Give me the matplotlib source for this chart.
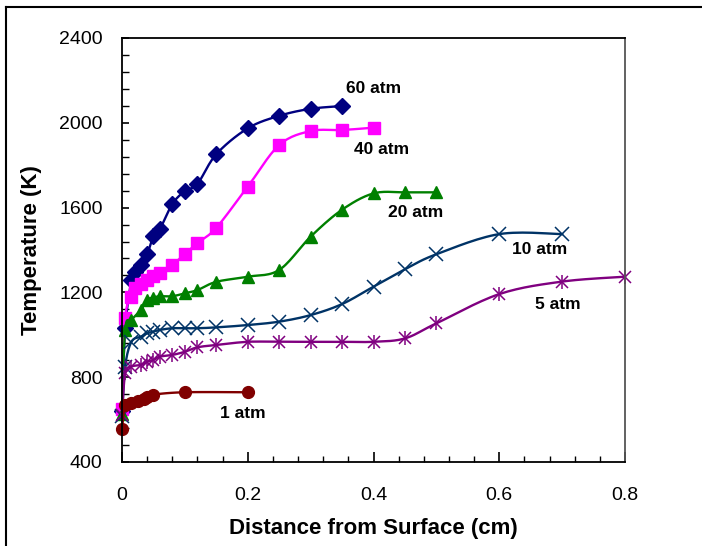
import numpy as np
import matplotlib
matplotlib.use("Agg")
import matplotlib.pyplot as plt
from matplotlib.lines import Line2D

plt.rcParams['font.family'] = ['Liberation Sans', 'DejaVu Sans']

# Temperature profiles vs distance from surface
x_60 = [0, 0.005, 0.015, 0.02, 0.03, 0.04, 0.05, 0.06, 0.08, 0.1, 0.12, 0.15, 0.2, 0.25, 0.3, 0.35]
t_60 = [640, 1030, 1258, 1298, 1329, 1379, 1466, 1497, 1617, 1678, 1712, 1852, 1974, 2033, 2066, 2079]

x_40 = [0, 0.005, 0.015, 0.02, 0.03, 0.04, 0.05, 0.06, 0.08, 0.1, 0.12, 0.15, 0.2, 0.25, 0.3, 0.35, 0.4]
t_40 = [650, 1078, 1180, 1219, 1240, 1260, 1275, 1292, 1329, 1382, 1432, 1505, 1699, 1895, 1961, 1966, 1977]

x_20 = [0, 0.005, 0.015, 0.03, 0.04, 0.05, 0.06, 0.08, 0.1, 0.12, 0.15, 0.2, 0.25, 0.3, 0.35, 0.4, 0.45, 0.5]
t_20 = [625, 1025, 1070, 1117, 1165, 1175, 1182, 1182, 1196, 1211, 1250, 1274, 1306, 1463, 1590, 1667, 1672, 1672]

x_10 = [0, 0.005, 0.015, 0.03, 0.04, 0.05, 0.06, 0.08, 0.1, 0.12, 0.15, 0.2, 0.25, 0.3, 0.35, 0.4, 0.45, 0.5, 0.6, 0.7]
t_10 = [615, 850, 967, 991, 1007, 1015, 1023, 1031, 1031, 1031, 1035, 1046, 1062, 1093, 1145, 1227, 1309, 1380, 1475, 1475]

x_5 = [0, 0.005, 0.015, 0.03, 0.04, 0.05, 0.06, 0.08, 0.1, 0.12, 0.15, 0.2, 0.25, 0.3, 0.35, 0.4, 0.45, 0.5, 0.6, 0.7, 0.8]
t_5 = [620, 818, 850, 858, 873, 881, 897, 905, 920, 941, 952, 967, 967, 967, 967, 967, 983, 1054, 1192, 1251, 1274]

x_1 = [0, 0.005, 0.015, 0.025, 0.035, 0.04, 0.05, 0.1, 0.2]
t_1 = [556, 670, 680, 688, 698, 708, 718, 729, 729]

labels = ['60 atm', '40 atm', '20 atm', '10 atm', '5 atm', '1 atm']
label_x = [0.40, 0.413, 0.467, 0.665, 0.693, 0.192]
label_y = [2164, 1872, 1575, 1400, 1145, 631]


def smooth(xs, ys, n=16):
    # Excel-like smoothed line (Catmull-Rom / Bezier), done in screen-ish units
    sx, sy = 503 / 0.8, 424 / 2000.0
    p = np.column_stack([np.asarray(xs) * sx, np.asarray(ys) * sy])
    out = [p[0]]
    for i in range(len(p) - 1):
        p0 = p[i - 1] if i > 0 else p[i]
        p1, p2 = p[i], p[i + 1]
        p3 = p[i + 2] if i + 2 < len(p) else p[i + 1]
        c1 = p1 + (p2 - p0) / 6
        c2 = p2 - (p3 - p1) / 6
        t = np.linspace(0, 1, n)[1:, None]
        seg = (1 - t) ** 3 * p1 + 3 * (1 - t) ** 2 * t * c1 + 3 * (1 - t) * t ** 2 * c2 + t ** 3 * p2
        out.extend(seg)
    out = np.array(out)
    return out[:, 0] / sx, out[:, 1] / sy


fig = plt.figure(figsize=(7.02, 5.46), dpi=100)
ax = fig.add_axes([122 / 702, 1 - 462 / 546, 503 / 702, 424 / 546])

series = [
    (x_60, t_60, '#000080', 'D', 8),
    (x_40, t_40, '#FF00FF', 's', 8.5),
    (x_20, t_20, '#008000', '^', 9),
    (x_10, t_10, '#003366', 'x', 10),
    (x_5, t_5, '#800080', 'x', 9),
    (x_1, t_1, '#800000', 'o', 8.5),
]

for xs, ys, c, m, ms in series:
    lx, ly = smooth(xs, ys)
    ax.plot(lx, ly, color=c, lw=1.7, clip_on=False)
    if m == 'x':
        ax.plot(xs, ys, ls='none', marker='x', ms=ms, mew=1.1, color=c, clip_on=False)
    else:
        ax.plot(xs, ys, ls='none', marker=m, ms=ms, color=c, mec=c, clip_on=False)

# 5 atm uses an asterisk marker: add the vertical stroke
ax.plot(x_5, t_5, ls='none', marker='|', ms=10, mew=1.1, color='#800080', clip_on=False)

for s, lx, ly in zip(labels, label_x, label_y):
    ax.text(lx, ly, s, fontsize=12.5, fontweight='bold', ha='center', va='center')

ax.set_xlim(0, 0.8)
ax.set_ylim(400, 2400)
ax.set_xticks([0, 0.2, 0.4, 0.6, 0.8])
ax.set_xticklabels(['0', '0.2', '0.4', '0.6', '0.8'])
ax.set_xticks(np.arange(0, 0.81, 0.04), minor=True)
ax.set_yticks(np.arange(400, 2401, 400))
ax.set_yticks(np.arange(400, 2401, 80), minor=True)
ax.tick_params(which='both', direction='in', labelsize=14, top=False, right=False)
ax.tick_params(axis='x', which='major', length=7, width=1.2, pad=18)
ax.tick_params(axis='x', which='minor', length=4.5, width=1.0)
ax.tick_params(axis='y', which='major', length=5, width=1.2, pad=14)
ax.tick_params(axis='y', which='minor', length=5, width=1.0)

for side in ['left', 'bottom', 'top']:
    ax.spines[side].set_color('black')
    ax.spines[side].set_linewidth(1.3)
ax.spines['right'].set_color('#555555')
ax.spines['right'].set_linewidth(1.3)

ax.set_xlabel('Distance from Surface (cm)', fontsize=16, fontweight='bold', labelpad=10)
ax.set_ylabel('Temperature (K)', fontsize=16, fontweight='bold', labelpad=12)

# outer chart frame (cut off at right and bottom)
fig.add_artist(Line2D([6 / 702, 6 / 702], [0, 1 - 7 / 546], color='black', lw=1.5))
fig.add_artist(Line2D([6 / 702, 1], [1 - 7 / 546, 1 - 7 / 546], color='black', lw=1.5))

fig.savefig('out.png', dpi=100)
